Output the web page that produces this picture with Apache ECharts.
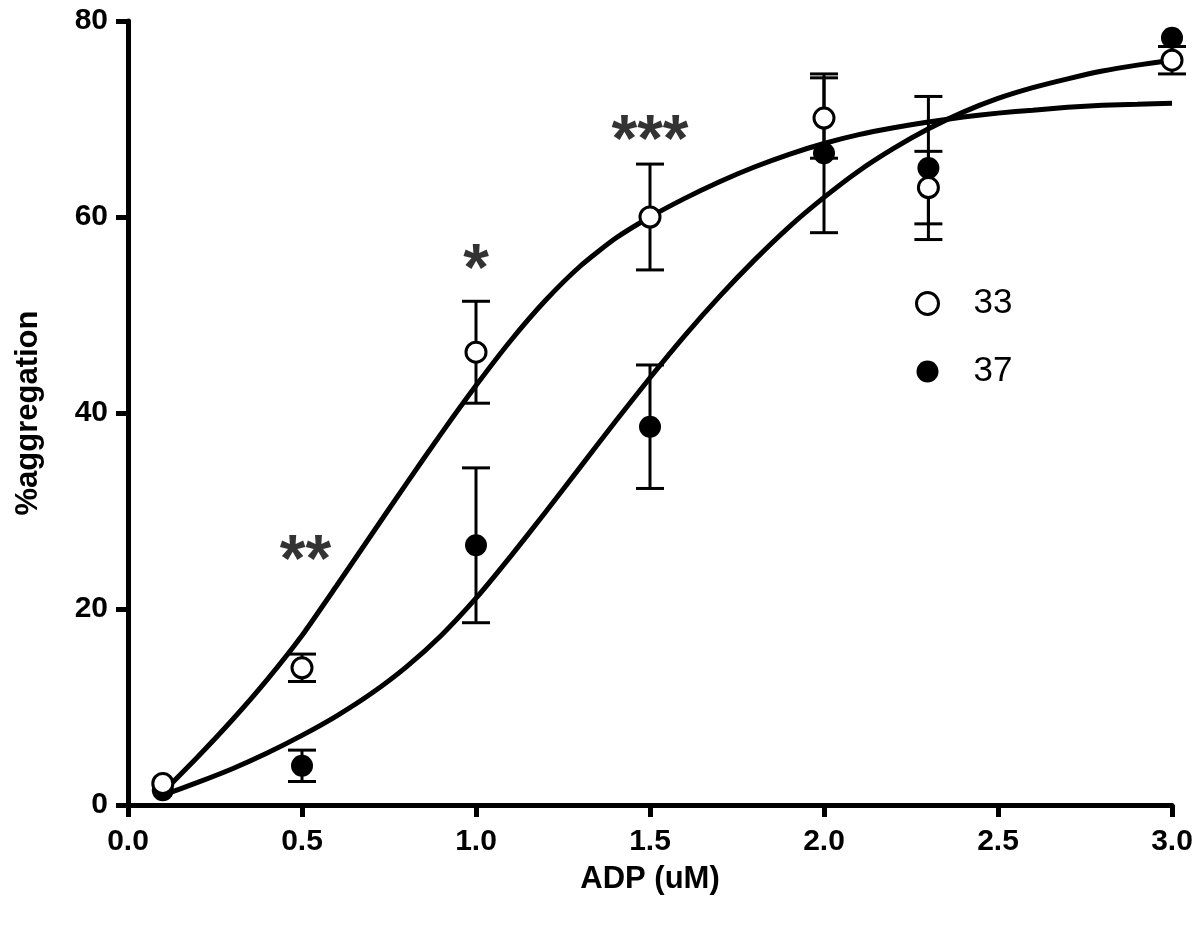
<!DOCTYPE html>
<html>
<head>
<meta charset="utf-8">
<script src="https://cdn.jsdelivr.net/npm/echarts@6/dist/echarts.min.js"></script>
<style>html,body{margin:0;padding:0;background:#fff}#c{width:1200px;height:926px}</style>
</head>
<body>
<div id="c"></div>
<script>
// ---- data ----
const doses = [0.1, 0.5, 1.0, 1.5, 2.0, 2.3, 3.0];
const mean33 = [2.2, 14.0, 46.2, 60.0, 70.1, 63.0, 76.0];
const sem33  = [0.0, 1.4, 5.2, 5.4, 4.1, 3.7, 1.4];
const mean37 = [1.5, 4.0, 26.5, 38.6, 66.5, 65.0, 78.3];
const sem37  = [0.0, 1.6, 7.9, 6.3, 8.1, 7.3, 0.0];

const fitX  = [0.1,0.2,0.3,0.4,0.5,0.6,0.7,0.8,0.9,1.0,1.1,1.2,1.3,1.4,1.5,1.6,1.7,1.8,1.9,2.0,2.1,2.2,2.3,2.4,2.5,2.6,2.7,2.8,2.9,3.0];
const fit33 = [1.3,4.9,8.7,12.8,17.3,22.4,27.6,32.8,37.9,42.8,47.4,51.5,55.0,57.8,60.0,61.9,63.6,65.1,66.4,67.5,68.4,69.1,69.7,70.2,70.6,70.9,71.2,71.4,71.5,71.6];
const fit37 = [1.0,2.3,3.7,5.3,7.1,9.1,11.4,14.1,17.3,21.1,25.4,29.9,34.5,39.1,43.6,47.9,51.9,55.6,59.0,62.0,64.7,67.0,69.0,70.7,72.1,73.2,74.1,74.9,75.5,76.0];

const sigLabels = ['**', '*', '***'];
const sigX = [0.51, 1.0, 1.5];
const sigY = [26.2, 55.9, 69.1];

const seriesNames = ['33', '37'];
const xTitle = 'ADP (uM)';
const yTitle = '%aggregation';

// ---- build ----
const FONT = '"Liberation Sans", Arial, Helvetica, sans-serif';
const pts = (xs, ys) => xs.map((x, i) => [x, ys[i]]);
const errs = (xs, m, s) => xs.map((x, i) => [x, m[i] - s[i], m[i] + s[i]]).filter((d, i) => s[i] > 0);

function errRender(params, api) {
  const x = api.value(0), lo = api.value(1), hi = api.value(2);
  const a = api.coord([x, hi]), b = api.coord([x, lo]);
  const w = 14;
  const st = { stroke: '#000', lineWidth: 3 };
  return {
    type: 'group',
    children: [
      { type: 'line', shape: { x1: a[0], y1: a[1], x2: b[0], y2: b[1] }, style: st },
      { type: 'line', shape: { x1: a[0] - w, y1: a[1], x2: a[0] + w, y2: a[1] }, style: st },
      { type: 'line', shape: { x1: b[0] - w, y1: b[1], x2: b[0] + w, y2: b[1] }, style: st }
    ]
  };
}

const chart = echarts.init(document.getElementById('c'), null, { renderer: 'canvas' });
chart.setOption({
  animation: false,
  backgroundColor: '#fff',
  textStyle: { fontFamily: FONT },
  grid: { left: 128, right: 28, top: 21, bottom: 121, containLabel: false, outerBoundsMode: 'none' },
  legend: {
    data: [
      { name: seriesNames[0], icon: 'circle', itemStyle: { color: '#fff', borderColor: '#000', borderWidth: 3 } },
      { name: seriesNames[1], icon: 'circle', itemStyle: { color: '#000', borderWidth: 0 } }
    ],
    orient: 'vertical',
    left: 910,
    top: 281,
    itemWidth: 22,
    itemHeight: 22,
    itemGap: 33,
    textStyle: { fontSize: 35, color: '#000', fontFamily: FONT, padding: [0, 0, 0, 30], lineHeight: 22 }
  },
  xAxis: {
    type: 'value', min: 0, max: 3, interval: 0.5,
    name: xTitle, nameLocation: 'middle', nameGap: 59,
    nameTextStyle: { fontSize: 31, fontWeight: 'bold', color: '#000', fontFamily: FONT },
    axisLine: { onZero: false, lineStyle: { color: '#000', width: 5 } },
    axisTick: { show: true, length: 12, lineStyle: { color: '#000', width: 5 } },
    axisLabel: { fontSize: 30, fontWeight: 'bold', color: '#000', margin: 22, formatter: v => v.toFixed(1), fontFamily: FONT },
    splitLine: { show: false }
  },
  yAxis: {
    type: 'value', min: 0, max: 80, interval: 20,
    name: yTitle, nameLocation: 'middle', nameGap: 84, nameRotate: 90,
    nameTextStyle: { fontSize: 31, fontWeight: 'bold', color: '#000', fontFamily: FONT },
    axisLine: { show: true, onZero: false, lineStyle: { color: '#000', width: 5 } },
    axisTick: { show: true, length: 12, lineStyle: { color: '#000', width: 5 } },
    axisLabel: { fontSize: 30, fontWeight: 'bold', color: '#000', margin: 20, fontFamily: FONT },
    splitLine: { show: false }
  },
  series: [
    { type: 'line', name: 'fit33', data: pts(fitX, fit33), showSymbol: false, smooth: 0.2,
      lineStyle: { color: '#000', width: 5 }, z: 3, silent: true },
    { type: 'line', name: 'fit37', data: pts(fitX, fit37), showSymbol: false, smooth: 0.2,
      lineStyle: { color: '#000', width: 5 }, z: 3, silent: true },
    { type: 'custom', name: 'err33', data: errs(doses, mean33, sem33), renderItem: errRender, z: 2, silent: true },
    { type: 'custom', name: 'err37', data: errs(doses, mean37, sem37), renderItem: errRender, z: 2, silent: true },
    { type: 'scatter', name: seriesNames[1], data: pts(doses, mean37), symbol: 'circle', symbolSize: 22,
      itemStyle: { color: '#000', opacity: 1 }, z: 4 },
    { type: 'scatter', name: seriesNames[0], data: pts(doses, mean33), symbol: 'circle', symbolSize: 20,
      itemStyle: { color: '#fff', borderColor: '#000', borderWidth: 3, opacity: 1 }, z: 5 },
    { type: 'scatter', name: 'sig', data: sigX.map((x, i) => ({ value: [x, sigY[i]], label: { formatter: sigLabels[i] } })),
      symbolSize: 0, silent: true, z: 6,
      label: { show: true, position: 'inside', offset: [0, 15], fontSize: 66, fontWeight: 'bold', color: '#000', fontFamily: FONT } }
  ]
});
</script>
</body>
</html>
